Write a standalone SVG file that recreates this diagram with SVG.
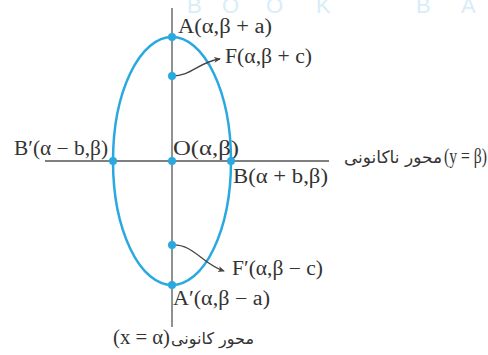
<svg xmlns="http://www.w3.org/2000/svg" width="488" height="355" viewBox="0 0 488 355">
<defs>
<marker id="ah" markerWidth="8" markerHeight="8" refX="6" refY="4" orient="auto" markerUnits="userSpaceOnUse">
<path d="M0,1 L7,4 L0,7 L2,4 Z" fill="#444"/>
</marker>
<style>
.ax{stroke:#555;stroke-width:1.3;fill:none}
.el{stroke:#29a9e0;stroke-width:2.5;fill:none}
.dot{fill:#29a9e0}
.lbl{font-family:"Liberation Serif","Times New Roman",serif;font-size:20px;fill:#333}
.fa{font-family:"DejaVu Sans",sans-serif;font-size:16px;fill:#333}
.con{stroke:#444;stroke-width:1.3;fill:none}
.wm{font-family:"Liberation Sans",Arial,sans-serif;font-size:22px;fill:#d8edf9}
</style>
</defs>
<g id="watermark">
<text class="wm" x="187" y="13">B</text>
<text class="wm" x="222" y="13">O</text>
<text class="wm" x="266" y="13">O</text>
<text class="wm" x="316" y="13">K</text>
<text class="wm" x="416" y="13">B</text>
<text class="wm" x="461" y="13">A</text>
</g>
<g id="axes">
<line class="ax" x1="172" y1="8" x2="172" y2="327"/>
<line class="ax" x1="45" y1="161" x2="329" y2="161"/>
</g>
<g id="ellipse">
<ellipse class="el" cx="172" cy="161" rx="59" ry="124"/>
</g>
<g id="connectors">
<path class="con" d="M172,76 C192,76 198,62 220,59" marker-end="url(#ah)"/>
<path class="con" d="M172,245 C194,244 202,264 224,271" marker-end="url(#ah)"/>
</g>
<g id="A"><circle class="dot" cx="172" cy="37" r="4"/><text class="lbl" x="178" y="33" textLength="94" lengthAdjust="spacingAndGlyphs">A(α,β + a)</text></g>
<g id="F"><circle class="dot" cx="172" cy="76" r="4"/><text class="lbl" x="225" y="63" textLength="87" lengthAdjust="spacingAndGlyphs">F(α,β + c)</text></g>
<g id="O"><circle class="dot" cx="172" cy="161" r="4"/><text class="lbl" x="173" y="155" textLength="66" lengthAdjust="spacingAndGlyphs">O(α,β)</text></g>
<g id="Bp"><circle class="dot" cx="113" cy="161" r="4"/><text class="lbl" x="14" y="155" textLength="94" lengthAdjust="spacingAndGlyphs">B′(α − b,β)</text></g>
<g id="B"><circle class="dot" cx="231" cy="161" r="4"/><text class="lbl" x="233" y="183" textLength="95" lengthAdjust="spacingAndGlyphs">B(α + b,β)</text></g>
<g id="Fp"><circle class="dot" cx="172" cy="245" r="4"/><text class="lbl" x="232" y="275" textLength="91" lengthAdjust="spacingAndGlyphs">F′(α,β − c)</text></g>
<g id="Ap"><circle class="dot" cx="172" cy="285" r="4"/><text class="lbl" x="173" y="305" textLength="97" lengthAdjust="spacingAndGlyphs">A′(α,β − a)</text></g>
<g id="minor-axis-label">
<text class="fa" x="442" y="163" text-anchor="start" direction="rtl" style="font-size:17px">محور ناکانونی</text>
<text class="lbl" x="444" y="163" textLength="43" lengthAdjust="spacingAndGlyphs">(y = β)</text>
</g>
<g id="major-axis-label">
<text class="fa" x="254" y="344" text-anchor="start" direction="rtl">محور کانونی</text>
<text class="lbl" x="113" y="344" textLength="57" lengthAdjust="spacingAndGlyphs">(x = α)</text>
</g>
</svg>
